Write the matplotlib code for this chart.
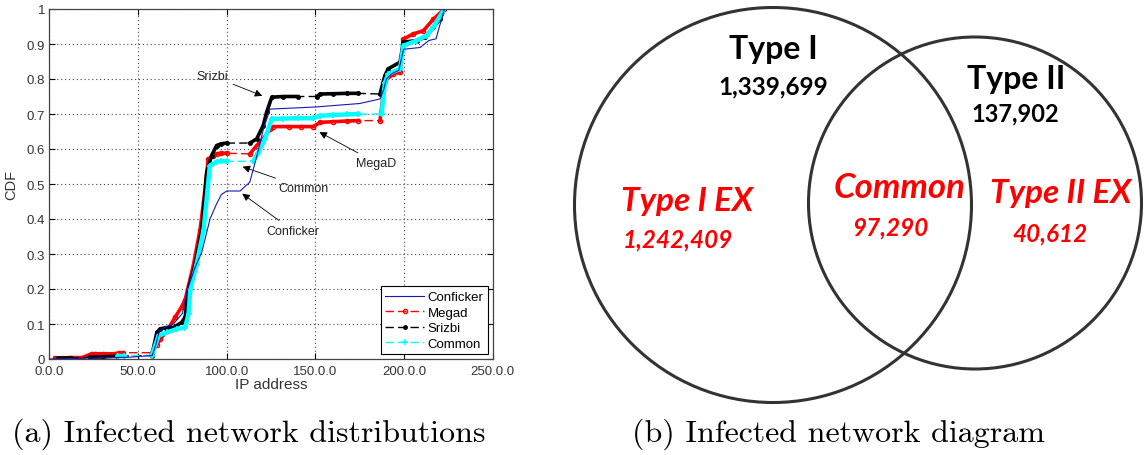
import matplotlib.pyplot as plt
from matplotlib.patches import Ellipse

# CDF of infected networks over the IP space (x in first octet, 0..250)
conficker_x = [0, 25, 45, 58, 60, 62, 65, 70, 75, 78, 82, 86, 90.6, 94, 97, 100, 107.5, 113, 117, 120.7, 124.4, 150, 175, 186.4, 188.5, 190, 193, 197, 199.7, 209, 214, 218, 222.7]
conficker_y = [0, 0.003, 0.005, 0.01, 0.04, 0.08, 0.09, 0.1, 0.13, 0.2, 0.26, 0.306, 0.4, 0.44, 0.47, 0.48, 0.48, 0.505, 0.58, 0.657, 0.714, 0.72, 0.73, 0.743, 0.77, 0.8, 0.815, 0.825, 0.885, 0.89, 0.91, 0.915, 1.0]

megad_x = [3.2, 7, 12, 18.6, 23.8, 26, 30, 37, 39.5, 41.8, 57.8, 60.6, 62.5, 66.3, 71, 74.7, 76.6, 78.5, 81.3, 85, 87, 89.6, 92, 94.3, 97, 100, 113.1, 116.9, 120.6, 124.4, 126.3, 135, 142, 148.9, 152.6, 160, 168, 174.2, 186.4, 189.2, 193.9, 197.7, 199.6, 205.2, 210.9, 216.5, 222.7]
megad_y = [0.003, 0.003, 0.004, 0.004, 0.015, 0.015, 0.015, 0.015, 0.018, 0.018, 0.018, 0.04, 0.057, 0.08, 0.12, 0.15, 0.17, 0.21, 0.27, 0.37, 0.45, 0.571, 0.58, 0.586, 0.588, 0.588, 0.586, 0.61, 0.629, 0.657, 0.664, 0.664, 0.664, 0.664, 0.676, 0.678, 0.68, 0.681, 0.681, 0.795, 0.814, 0.819, 0.914, 0.929, 0.938, 0.971, 1.0]

srizbi_x = [5, 12, 23, 30, 38, 57.8, 60.6, 62.5, 66, 70, 74.7, 76.6, 78.5, 82.3, 86, 88.7, 91.5, 94.3, 97, 100, 113.1, 116.9, 120.6, 122.5, 125.4, 132, 140, 150.8, 152.6, 160, 168, 174.2, 186.4, 189.2, 191, 197.7, 199.6, 207.1, 211.8, 216.5, 220.3, 222.7]
srizbi_y = [0.002, 0.003, 0.005, 0.006, 0.008, 0.01, 0.076, 0.086, 0.09, 0.09, 0.105, 0.12, 0.2, 0.27, 0.37, 0.533, 0.581, 0.61, 0.615, 0.617, 0.617, 0.629, 0.667, 0.705, 0.748, 0.75, 0.75, 0.75, 0.757, 0.758, 0.759, 0.759, 0.757, 0.81, 0.829, 0.848, 0.905, 0.91, 0.919, 0.948, 0.971, 1.0]

common_x = [39, 42, 57.8, 61.6, 66.3, 72, 76.6, 78.5, 79.5, 83, 87, 90.5, 94.3, 97, 100, 115, 117.8, 121.6, 125.4, 132, 140, 148.9, 152.6, 160, 168, 174.2, 187.3, 189.2, 191, 197.7, 199.6, 207.1, 212.7, 216.5, 222.7]
common_y = [0.01, 0.01, 0.01, 0.067, 0.076, 0.086, 0.09, 0.13, 0.2, 0.27, 0.37, 0.552, 0.564, 0.565, 0.565, 0.565, 0.59, 0.629, 0.686, 0.687, 0.688, 0.688, 0.695, 0.697, 0.699, 0.7, 0.7, 0.79, 0.814, 0.829, 0.895, 0.91, 0.924, 0.948, 1.0]

x_ticks = [0, 50, 100, 150, 200, 250]
x_ticklabels = ['0.0.0', '50.0.0', '100.0.0', '150.0.0', '200.0.0', '250.0.0']
y_ticks = [0, 0.1, 0.2, 0.3, 0.4, 0.5, 0.6, 0.7, 0.8, 0.9, 1]
y_ticklabels = ['0', '0.1', '0.2', '0.3', '0.4', '0.5', '0.6', '0.7', '0.8', '0.9', '1']

# venn diagram: group name, count
type1 = ('Type I', '1,339,699')
type2 = ('Type II', '137,902')
type1_ex = ('Type I EX', '1,242,409')
common = ('Common', '97,290')
type2_ex = ('Type II EX', '40,612')


def dense_runs(xs, ys, gap=10):
    # split a series where neighbouring samples are far apart
    runs, cur = [], [(xs[0], ys[0])]
    for x0, y0, x1, y1 in zip(xs, ys, xs[1:], ys[1:]):
        if x1 - x0 > gap:
            runs.append(cur)
            cur = []
        cur.append((x1, y1))
    runs.append(cur)
    return [r for r in runs if len(r) > 1]


def cdf_line(ax, xs, ys, color, marker, ms, label, thick=2.6, **kw):
    ax.plot(xs, ys, color=color, ls=(0, (6, 3)), lw=1.0, marker=marker, ms=ms,
            label=label, **kw)
    for run in dense_runs(xs, ys):
        rx, ry = zip(*run)
        ax.plot(rx, ry, color=color, lw=thick, solid_joinstyle='round')


W, H = 1144, 456
fig = plt.figure(figsize=(W / 100, H / 100), dpi=100)

# canvas in pixel units for the venn diagram and captions
bg = fig.add_axes([0, 0, 1, 1])
bg.set_xlim(0, W)
bg.set_ylim(H, 0)
bg.axis('off')

ax = fig.add_axes([49.3 / W, (H - 360) / H, 443.5 / W, 350 / H])
tick_font = 'Liberation Sans'

ax.plot(conficker_x, conficker_y, color='#1818b8', lw=0.8, label='Conficker', zorder=5)
cdf_line(ax, megad_x, megad_y, 'red', 'o', 3, 'Megad', mfc='none', mew=1.0)
cdf_line(ax, srizbi_x, srizbi_y, 'black', '.', 5, 'Srizbi')
cdf_line(ax, common_x, common_y, 'cyan', '+', 4, 'Common', thick=3.2, mew=1.2)

ax.set_xlim(0, 250)
ax.set_ylim(0, 1)
ax.set_xticks(x_ticks)
ax.set_xticklabels(x_ticklabels, fontfamily=tick_font, fontsize=9.5, color='#333333')
ax.set_yticks(y_ticks)
ax.set_yticklabels(y_ticklabels, fontfamily=tick_font, fontsize=9.5, color='#333333')
ax.tick_params(direction='in', top=True, right=True, length=4)
ax.tick_params(axis='x', pad=4.5)
ax.tick_params(axis='y', pad=3)
ax.grid(True, ls=(0, (1, 2.5)), color='#444444', lw=0.8)
for s in ax.spines.values():
    s.set_color('#444444')
    s.set_linewidth(0.9)
ax.set_xlabel('IP address', fontfamily=tick_font, fontsize=11, color='#333333', labelpad=0)
ax.set_ylabel('CDF', fontfamily=tick_font, fontsize=10.5, color='#333333', labelpad=6)

arrow = dict(arrowstyle='-|>', color='black', lw=0.6, mutation_scale=11)
note = dict(fontfamily=tick_font, fontsize=9, color='#222222', ha='center', va='center')
ax.annotate('Srizbi', xy=(121.5, 0.749), xytext=(91.7, 0.809), arrowprops=arrow, **note)
ax.annotate('MegaD', xy=(150.9, 0.652), xytext=(184.5, 0.56), arrowprops=arrow, **note)
ax.annotate('Common', xy=(107.5, 0.552), xytext=(143.3, 0.489), arrowprops=arrow, **note)
ax.annotate('Conficker', xy=(107.5, 0.477), xytext=(137.5, 0.366), arrowprops=arrow, **note)

leg = ax.legend(loc='lower right', prop={'family': tick_font, 'size': 9.5}, fancybox=False,
                edgecolor='black', framealpha=1, borderaxespad=0.35, handlelength=2.9,
                labelspacing=0.25, borderpad=0.35, handletextpad=0.3)
leg.get_frame().set_linewidth(0.8)

# venn diagram
bg.add_patch(Ellipse((773, 206), 397, 395, fill=False, ec='#333333', lw=2.2))
bg.add_patch(Ellipse((975, 204), 333, 332, fill=False, ec='#333333', lw=2.2))

venn_font = 'Lato'
bg.text(773, 49, type1[0], fontfamily=venn_font, fontweight='bold', fontsize=23,
        ha='center', va='center')
bg.text(773, 87, type1[1], fontfamily=venn_font, fontweight='bold', fontsize=17.5,
        ha='center', va='center')
bg.text(1016, 79, type2[0], fontfamily=venn_font, fontweight='bold', fontsize=23,
        ha='center', va='center')
bg.text(1015, 114, type2[1], fontfamily=venn_font, fontweight='bold', fontsize=17,
        ha='center', va='center')

red = dict(fontfamily=venn_font, fontweight='bold', fontstyle='italic', color='#ff0000',
           ha='center', va='center')
bg.text(687, 202, type1_ex[0], fontsize=24, **red)
bg.text(678, 240, type1_ex[1], fontsize=17.5, **red)
bg.text(900, 188, common[0], fontsize=25, **red)
bg.text(890, 228, common[1], fontsize=17.5, **red)
bg.text(1061, 194, type2_ex[0], fontsize=24, **red)
bg.text(1050, 234, type2_ex[1], fontsize=17.5, **red)

# subfigure captions
cap = dict(fontfamily='cmr10', fontsize=23, ha='center', va='center')
bg.text(249, 434, '(a) Infected network distributions', **cap)
bg.text(838, 434, '(b) Infected network diagram', **cap)

fig.savefig('out.png', dpi=100)
